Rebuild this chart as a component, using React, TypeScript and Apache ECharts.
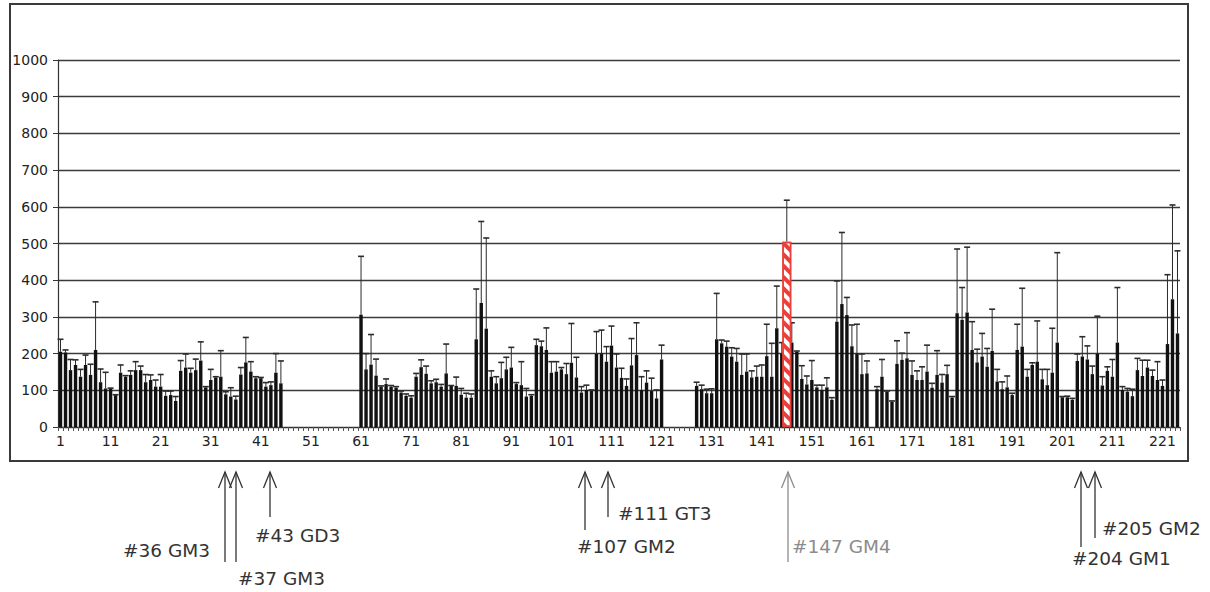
import React, { useEffect, useRef } from "react";
import * as echarts from "echarts";

// Category labels 1..224
const CATEGORIES: string[] = [];
for (let i = 1; i <= 224; i++) CATEGORIES.push(String(i));

// Mean values (bar heights), null = no data
const VALUES: (number | null)[] = [
  // 1-10
  205, 203, 155, 169, 137, 169, 142, 210, 122, 105,
  // 11-20
  105, 87, 148, 137, 142, 155, 155, 122, 128, 110,
  // 21-30
  110, 85, 87, 71, 153, 162, 148, 155, 181, 108,
  // 31-40
  128, 135, 137, 89, 83, 75, 143, 176, 151, 133,
  // 41-50
  133, 110, 114, 148, 119, null, null, null, null, null,
  // 51-60
  null, null, null, null, null, null, null, null, null, null,
  // 61-70
  306, 157, 170, 140, 110, 117, 110, 107, 94, 85,
  // 71-80
  80, 137, 163, 145, 119, 122, 110, 146, 112, 112,
  // 81-90
  88, 80, 80, 239, 338, 268, 137, 119, 133, 157,
  // 91-100
  162, 117, 114, 83, 85, 223, 220, 210, 148, 151,
  // 101-110
  157, 144, 175, 135, 94, 101, 98, 200, 200, 178,
  // 111-120
  222, 162, 134, 112, 168, 196, 101, 121, 98, 78,
  // 121-130
  184, null, null, null, null, null, null, 112, 103, 92,
  // 131-140
  92, 239, 228, 219, 192, 178, 142, 151, 135, 137,
  // 141-150
  137, 193, 137, 269, 200, null, 230, 205, 131, 116,
  // 151-160
  128, 108, 101, 108, 74, 287, 335, 305, 220, 200,
  // 161-170
  144, 146, null, 103, 137, 96, 69, 172, 183, 187,
  // 171-180
  142, 128, 128, 151, 107, 142, 121, 144, 80, 310,
  // 181-190
  292, 312, 210, 176, 192, 164, 207, 124, 103, 108,
  // 191-200
  87, 210, 219, 137, 169, 178, 130, 114, 148, 230,
  // 201-210
  81, 81, 74, 180, 192, 184, 144, 200, 113, 153,
  // 211-220
  137, 230, 101, 96, 84, 155, 139, 162, 139, 128,
  // 221-224
  112, 226, 348, 255,
];

// Upper end of the error bar for each category
const ERR_TOP: (number | null)[] = [
  // 1-10
  239, 210, 184, 183, 157, 196, 171, 341, 158, 149,
  // 11-20
  106, 88, 169, 140, 153, 178, 166, 143, 142, 128,
  // 21-30
  143, 98, 98, 83, 181, 199, 160, 185, 232, 110,
  // 31-40
  157, 137, 208, 96, 107, 84, 162, 244, 178, 137,
  // 41-50
  135, 121, 123, 200, 180, null, null, null, null, null,
  // 51-60
  null, null, null, null, null, null, null, null, null, null,
  // 61-70
  465, 200, 252, 185, 112, 131, 113, 110, 98, 90,
  // 71-80
  85, 146, 183, 166, 126, 130, 116, 226, 113, 136,
  // 81-90
  105, 92, 90, 376, 560, 515, 153, 137, 176, 190,
  // 91-100
  217, 121, 178, 105, 88, 239, 234, 270, 178, 178,
  // 101-110
  162, 173, 282, 190, 110, 114, 101, 260, 264, 219,
  // 111-120
  275, 199, 160, 131, 241, 284, 137, 153, 133, 101,
  // 121-130
  223, null, null, null, null, null, null, 122, 114, 103,
  // 131-140
  104, 364, 237, 234, 216, 214, 199, 199, 153, 166,
  // 141-150
  169, 280, 228, 384, 230, null, 284, 207, 167, 139,
  // 151-160
  181, 114, 114, 134, 80, 398, 530, 353, 278, 280,
  // 161-170
  199, 180, null, 110, 184, 98, 71, 235, 201, 257,
  // 171-180
  180, 153, 164, 223, 119, 208, 143, 168, 83, 485,
  // 181-190
  380, 490, 287, 212, 255, 214, 321, 157, 123, 139,
  // 191-200
  92, 280, 378, 157, 175, 289, 157, 157, 269, 475,
  // 201-210
  83, 84, 78, 199, 246, 221, 166, 302, 137, 164,
  // 211-220
  184, 380, 110, 105, 103, 187, 182, 182, 155, 178,
  // 221-224
  128, 415, 605, 480,
];

// Highlighted compound (#147 GM4)
const HIGHLIGHT_INDEX = 145; // zero-based position of the red bar
const HIGHLIGHT_VALUE = 505;
const HIGHLIGHT_ERR_TOP = 618;

// Y axis ticks
const Y_MIN = 0;
const Y_MAX = 1000;
const Y_STEP = 100;

// Annotations under the chart
const ANNOTATION_LABELS = ["#36 GM3", "#37 GM3", "#43 GD3", "#107 GM2", "#111 GT3", "#147 GM4", "#205 GM2", "#204 GM1"];

// layout of annotations (pixels): arrow x, arrow bottom, text x, text y, colour
const ANNOTATION_LAYOUT = [
  { ax: 225, ab: 562, tx: 123, ty: 550, c: "#333" },
  { ax: 236, ab: 562, tx: 238, ty: 578, c: "#333" },
  { ax: 270, ab: 517, tx: 255, ty: 535, c: "#333" },
  { ax: 585, ab: 530, tx: 577, ty: 546, c: "#333" },
  { ax: 608, ab: 517, tx: 618, ty: 513, c: "#333" },
  { ax: 788, ab: 562, tx: 792, ty: 546, c: "#8c8c8c" },
  { ax: 1095, ab: 538, tx: 1102, ty: 528, c: "#333" },
  { ax: 1081, ab: 547, tx: 1072, ty: 558, c: "#333" },
];

const FONT = "DejaVu Sans";

export default function App() {
  const ref = useRef<HTMLDivElement>(null);

  useEffect(() => {
    if (!ref.current) return;
    const chart = echarts.init(ref.current, undefined, { renderer: "svg" });

    const errData: number[][] = [];
    VALUES.forEach((v, i) => {
      const e = ERR_TOP[i];
      if (v != null && e != null) errData.push([i, v, e]);
    });
    errData.push([HIGHLIGHT_INDEX, HIGHLIGHT_VALUE, HIGHLIGHT_ERR_TOP]);

    const blackData = VALUES.map((v, i) => (i === HIGHLIGHT_INDEX ? null : v));
    const redData = VALUES.map((_, i) => (i === HIGHLIGHT_INDEX ? HIGHLIGHT_VALUE : null));

    const renderErr = (params: any, api: any) => {
      const x = api.value(0);
      const base = api.coord([x, api.value(1)]);
      const top = api.coord([x, api.value(2)]);
      return {
        type: "group",
        children: [
          { type: "line", shape: { x1: base[0], y1: base[1], x2: base[0], y2: top[1] }, style: { stroke: "#2b2b2b", lineWidth: 1 } },
          { type: "line", shape: { x1: base[0] - 3, y1: top[1], x2: base[0] + 3, y2: top[1] }, style: { stroke: "#2b2b2b", lineWidth: 1.6 } },
        ],
      };
    };

    const graphics: any[] = [
      {
        type: "rect",
        shape: { x: 10, y: 4, width: 1178, height: 457 },
        style: { fill: null, stroke: "#3a3a3a", lineWidth: 2 },
        z: 100,
      },
    ];
    ANNOTATION_LABELS.forEach((label, i) => {
      const a = ANNOTATION_LAYOUT[i];
      const top = 472;
      graphics.push({
        type: "line",
        shape: { x1: a.ax, y1: top, x2: a.ax, y2: a.ab },
        style: { stroke: a.c, lineWidth: 1.3 },
        z: 100,
      });
      graphics.push({
        type: "polyline",
        shape: { points: [[a.ax - 6.5, top + 16], [a.ax, top], [a.ax + 6.5, top + 16]] },
        style: { stroke: a.c, fill: null, lineWidth: 1.3 },
        z: 100,
      });
      graphics.push({
        type: "text",
        x: a.tx,
        y: a.ty,
        style: { text: label, fontSize: 18.5, fontFamily: FONT, fill: a.c, align: "left", verticalAlign: "middle" },
        z: 100,
      });
    });

    chart.setOption({
      animation: false,
      backgroundColor: "#fff",
      textStyle: { fontFamily: FONT },
      grid: { left: 58, right: 30, top: 60, bottom: 165, containLabel: false },
      xAxis: [
        {
          type: "category",
          data: CATEGORIES,
          boundaryGap: true,
          axisLine: { show: true, lineStyle: { color: "#333", width: 1.2 } },
          axisTick: { show: true, interval: 0, length: 4, lineStyle: { color: "#555" } },
          axisLabel: { interval: 9, fontSize: 14, color: "#222", margin: 7, fontFamily: FONT },
          splitLine: { show: false },
        },
        { type: "category", data: CATEGORIES, show: false },
      ],
      yAxis: {
        type: "value",
        min: Y_MIN,
        max: Y_MAX,
        interval: Y_STEP,
        axisLine: { show: true, lineStyle: { color: "#333", width: 1.2 } },
        axisTick: { show: true, length: 5, lineStyle: { color: "#333" } },
        axisLabel: { fontSize: 14, color: "#222", margin: 10, fontFamily: FONT, formatter: (v: number) => String(v) },
        splitLine: { show: true, lineStyle: { color: "#3a3a3a", width: 1.3 } },
      },
      series: [
        {
          type: "bar",
          data: blackData,
          barCategoryGap: "32%",
          itemStyle: { color: "#111" },
          silent: true,
          z: 2,
        },
        {
          type: "custom",
          renderItem: renderErr,
          data: errData,
          encode: { x: 0, y: [1, 2] },
          silent: true,
          z: 3,
        },
        {
          type: "bar",
          xAxisIndex: 1,
          data: redData,
          barWidth: 9,
          silent: true,
          itemStyle: {
            color: "#ffffff",
            borderColor: "#e8403c",
            borderWidth: 1.5,
            decal: {
              symbol: "rect",
              symbolSize: 1,
              color: "#e8403c",
              backgroundColor: "#ffffff",
              dashArrayX: [1, 0],
              dashArrayY: [4, 4],
              rotation: Math.PI / 4,
            },
          },
          z: 4,
        },
      ],
      graphic: graphics,
    });

    return () => chart.dispose();
  }, []);

  return (
    <div
      ref={ref}
      style={{ position: "absolute", left: 0, top: 0, width: 1210, height: 592, background: "#fff" }}
    />
  );
}
